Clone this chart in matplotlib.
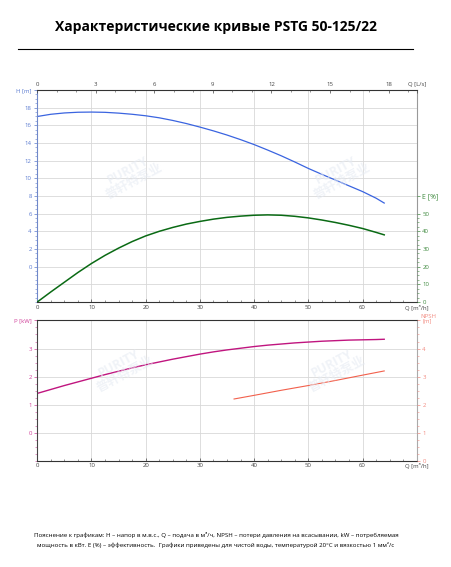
import matplotlib
matplotlib.use("Agg")
import matplotlib.pyplot as plt
from matplotlib.ticker import FixedLocator
import numpy as np

plt.rcParams['font.family'] = ['Open Sans', 'DejaVu Sans']

# ---- data ----
q = [0, 2.5, 5, 7.5, 10, 12.5, 15, 17.5, 20, 22.5, 25, 27.5, 30, 32.5, 35, 37.5,
     40, 42.5, 45, 47.5, 50, 52.5, 55, 57.5, 60, 62.5, 64]
head = [17.0, 17.25, 17.4, 17.48, 17.5, 17.47, 17.38, 17.25, 17.08, 16.85, 16.55, 16.2,
        15.8, 15.37, 14.9, 14.38, 13.82, 13.2, 12.55, 11.85, 11.12, 10.45, 9.8, 9.15,
        8.5, 7.75, 7.2]
eff = [0, 5.7, 11.2, 16.7, 21.8, 26.4, 30.5, 34.2, 37.4, 40.0, 42.2, 44.1, 45.6, 46.9,
       47.9, 48.6, 49.1, 49.3, 49.1, 48.5, 47.6, 46.4, 45.0, 43.4, 41.6, 39.4, 38.0]
power = [1.40, 1.54, 1.68, 1.81, 1.94, 2.07, 2.19, 2.31, 2.42, 2.52, 2.62, 2.71, 2.80,
         2.88, 2.95, 3.01, 3.07, 3.12, 3.16, 3.20, 3.23, 3.26, 3.28, 3.30, 3.31, 3.32, 3.33]
q_npsh = [36.3, 40, 45, 50, 55, 60, 64]
npsh = [2.20, 2.33, 2.51, 2.68, 2.86, 3.05, 3.20]

q_ticks = [0, 10, 20, 30, 40, 50, 60]
qls_ticks = [0, 3, 6, 9, 12, 15, 18]
h_ticks = [0, 2, 4, 6, 8, 10, 12, 14, 16, 18]
e_ticks = [0, 10, 20, 30, 40, 50]
p_ticks = [0, 1, 2, 3]
n_ticks = [0, 1, 2, 3, 4]

title = "Характеристические кривые PSTG 50-125/22"
footer1 = ("Пояснение к графикам: H – напор в м.в.с., Q – подача в м³/ч, NPSH – потери давления на всасывании, kW – потребляемая")
footer2 = ("мощность в кВт. E (%) – эффективность.  Графики приведены для чистой воды, температурой 20°C и вязкостью 1 мм²/с")

C_H = "#3a64e0"
C_E = "#0a6a14"
C_P = "#c0157f"
C_N = "#f2604c"
C_Ht = "#5a7ad0"
C_Et = "#3f8a3f"
C_Pt = "#d0409a"
C_Nt = "#f28a80"
GRID = "#d8d8d8"
QMAX = 70
fs = 4.3

fig = plt.figure(figsize=(4.52, 5.67), dpi=100)

fig.text(0.478, 0.952, title, ha='center', va='center', fontsize=10, fontweight='bold')
fig.add_artist(plt.Line2D([0.04, 0.914], [0.913, 0.913], color='black', lw=0.8))

# ---------- watermarks ----------
for (wx, wy) in [(0.29, 0.69), (0.75, 0.69), (0.27, 0.35), (0.74, 0.35)]:
    fig.text(wx, wy, "PURITY\n普轩特泵业", color='#e6ebf3', fontsize=9, fontweight='bold',
             rotation=28, ha='center', va='center', alpha=0.6, linespacing=0.9,
             family=['Open Sans', 'Noto Sans CJK SC'], zorder=5)

# ---------- top plot ----------
ax = fig.add_axes([0.0825, 0.4674, 0.8395, 0.3739])
ax.patch.set_alpha(0)
ax.set_xlim(0, QMAX)
ax.set_ylim(-4, 20)
ax.plot(q, head, color=C_H, lw=0.9)
ax.set_yticks(h_ticks + [20])
ax.set_yticklabels([str(t) for t in h_ticks] + ["H [m]"])
ax.yaxis.set_minor_locator(FixedLocator(np.arange(-4, 20.01, 0.5)))
ax.set_xticks(q_ticks + [QMAX])
ax.set_xticklabels([str(t) for t in q_ticks] + ["Q [m³/h]"])
ax.xaxis.set_minor_locator(FixedLocator(np.arange(0, QMAX + 0.01, 2.5)))
for y in range(-2, 20, 2):
    ax.axhline(y, color=GRID, lw=0.6, zorder=0)
for x in q_ticks[1:]:
    ax.axvline(x, color=GRID, lw=0.6, zorder=0)
ax.tick_params(axis='y', colors=C_Ht, labelsize=fs, length=2.5, width=0.5, direction='out', pad=1.5)
ax.tick_params(axis='y', which='minor', colors=C_Ht, length=1.2, width=0.4, direction='out')
ax.tick_params(axis='x', colors='#444444', labelsize=fs, length=2.5, width=0.5, direction='in', pad=2)
ax.tick_params(axis='x', which='minor', length=1.5, width=0.4, direction='in', colors='#444444')
ax.spines['top'].set_color('#333333')
ax.spines['bottom'].set_color('#333333')
ax.spines['left'].set_color('#7088c8')
ax.spines['right'].set_color('#999999')
for s in ax.spines.values():
    s.set_linewidth(0.8)

axe = ax.twinx()
axe.set_ylim(0, 120)
axe.plot(q, eff, color=C_E, lw=1.1)
axe.set_yticks(e_ticks + [60])
axe.set_yticklabels([str(t) for t in e_ticks] + ["E [%]"])
axe.yaxis.set_minor_locator(FixedLocator(np.arange(0, 50.01, 2.5)))
axe.tick_params(axis='y', colors=C_Et, labelsize=fs, length=2.5, width=0.5, direction='out', pad=1.5)
axe.tick_params(axis='y', which='minor', colors=C_Et, length=1.2, width=0.4, direction='out')
axe.get_yticklabels()[-1].set_fontsize(5)
for s in axe.spines.values():
    s.set_visible(False)

axt = ax.twiny()
axt.set_xlim(0, QMAX / 3.6)
axt.set_xticks(qls_ticks + [QMAX / 3.6])
axt.set_xticklabels([str(t) for t in qls_ticks] + ["Q [L/s]"])
axt.xaxis.set_minor_locator(FixedLocator(np.arange(0, 19.5, 1)))
axt.tick_params(axis='x', colors='#444444', labelsize=fs, length=2.5, width=0.5, direction='in', pad=2)
axt.tick_params(axis='x', which='minor', length=1.5, width=0.4, direction='in', colors='#444444')
for s in axt.spines.values():
    s.set_visible(False)

# ---------- bottom plot ----------
bx = fig.add_axes([0.0825, 0.1875, 0.8395, 0.2473])
bx.patch.set_alpha(0)
bx.set_xlim(0, QMAX)
bx.set_ylim(-1, 4)
bx.plot(q, power, color=C_P, lw=1.0)
bx.set_yticks(p_ticks + [4])
bx.set_yticklabels([str(t) for t in p_ticks] + ["P [kW]"])
bx.yaxis.set_minor_locator(FixedLocator(np.arange(-1, 4.01, 0.25)))
bx.set_xticks(q_ticks + [QMAX])
bx.set_xticklabels([str(t) for t in q_ticks] + ["Q [m³/h]"])
bx.xaxis.set_minor_locator(FixedLocator(np.arange(0, QMAX + 0.01, 2.5)))
for y in [0, 1, 2, 3]:
    bx.axhline(y, color=GRID, lw=0.6, zorder=0)
for x in q_ticks[1:]:
    bx.axvline(x, color=GRID, lw=0.6, zorder=0)
bx.tick_params(axis='y', colors=C_Pt, labelsize=fs, length=2.5, width=0.5, direction='out', pad=1.5)
bx.tick_params(axis='y', which='minor', colors=C_Pt, length=1.2, width=0.4, direction='out')
bx.tick_params(axis='x', colors='#444444', labelsize=fs, length=2.5, width=0.5, direction='in', pad=2)
bx.tick_params(axis='x', which='minor', length=1.5, width=0.4, direction='in', colors='#444444')
bx.spines['top'].set_color('#333333')
bx.spines['bottom'].set_color('#333333')
bx.spines['left'].set_color('#444444')
bx.spines['right'].set_color('#aaaaaa')
for s in bx.spines.values():
    s.set_linewidth(0.8)

bn = bx.twinx()
bn.set_ylim(0, 5)
bn.plot(q_npsh, npsh, color=C_N, lw=0.8)
bn.set_yticks(n_ticks + [5])
bn.set_yticklabels([str(t) for t in n_ticks] + ["[m]"])
bn.yaxis.set_minor_locator(FixedLocator(np.arange(0, 5.01, 0.25)))
bn.tick_params(axis='y', colors=C_Nt, labelsize=fs, length=2.5, width=0.5, direction='out', pad=1.5)
bn.tick_params(axis='y', which='minor', colors=C_Nt, length=1.2, width=0.4, direction='out')
for s in bn.spines.values():
    s.set_visible(False)
fig.text(0.929, 1 - 316 / 567, "NPSH", color=C_Nt, fontsize=fs, ha='left', va='center')

# ---------- footer ----------
fig.text(0.478, 1 - 535 / 567, footer1, ha='center', va='center', fontsize=4.4)
fig.text(0.478, 1 - 545 / 567, footer2, ha='center', va='center', fontsize=4.4)

fig.savefig("out.png", dpi=100)
